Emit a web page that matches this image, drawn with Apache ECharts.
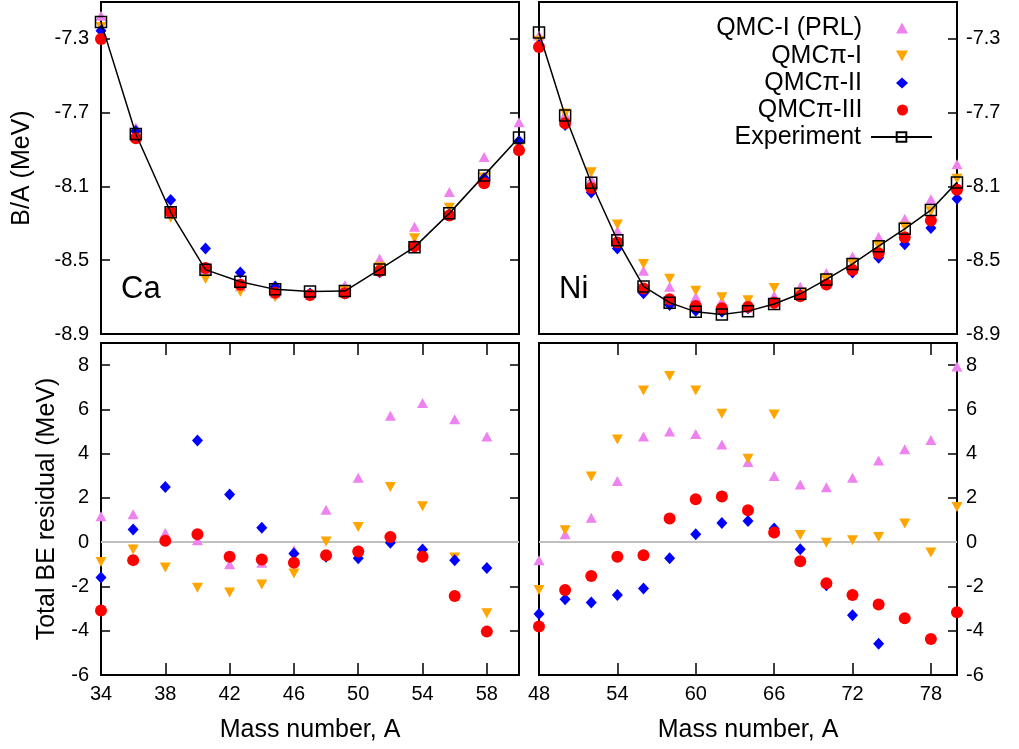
<!DOCTYPE html>
<html><head><meta charset="utf-8">
<script src="https://cdn.jsdelivr.net/npm/echarts@6/dist/echarts.min.js"></script>
<style>html,body{margin:0;padding:0;background:#fff}#c{width:1019px;height:749px}</style>
</head><body><div id="c"></div>
<script>
// ---------- data ----------
const seriesNames = ['QMC-I (PRL)', 'QMC\u03c0-I', 'QMC\u03c0-II', 'QMC\u03c0-III', 'Experiment'];

const caA = [34,36,38,40,42,44,46,48,50,52,54,56,58];
const caExpBA = [-7.209,-7.816,-8.240,-8.551,-8.617,-8.658,-8.669,-8.667,-8.550,-8.429,-8.246,-8.040,-7.834];
const caPrlBA = [-7.175,-7.781,-8.229,-8.549,-8.641,-8.679,-8.677,-8.636,-8.492,-8.319,-8.130,-7.941,-7.752];
const caPi1BA = [-7.235,-7.825,-8.270,-8.602,-8.671,-8.701,-8.700,-8.666,-8.536,-8.381,-8.216,-8.052,-7.889];
const caPi2BA = [-7.256,-7.800,-8.174,-8.436,-8.566,-8.643,-8.680,-8.681,-8.565,-8.429,-8.252,-8.055,-7.854];
const caPi3BA = [-7.300,-7.839,-8.238,-8.542,-8.633,-8.676,-8.689,-8.679,-8.558,-8.424,-8.258,-8.083,-7.904];

const caPrlRes = [1.17,1.26,0.42,0.09,-1.00,-0.93,-0.36,1.47,2.91,5.71,6.29,5.56,4.77];
const caPi1Res = [-0.89,-0.33,-1.14,-2.06,-2.27,-1.91,-1.41,0.03,0.69,2.49,1.62,-0.69,-3.21];
const caPi2Res = [-1.59,0.57,2.49,4.59,2.15,0.65,-0.51,-0.66,-0.73,-0.02,-0.33,-0.81,-1.17];
const caPi3Res = [-3.09,-0.81,0.06,0.36,-0.66,-0.78,-0.93,-0.59,-0.42,0.24,-0.66,-2.43,-4.04];

const niA = [48,50,52,54,56,58,60,62,64,66,68,70,72,74,76,78,80];
const niExpBA = [-7.265,-7.715,-8.080,-8.392,-8.642,-8.730,-8.780,-8.794,-8.776,-8.737,-8.682,-8.604,-8.520,-8.424,-8.330,-8.228,-8.078];
const niPrlBA = [-7.282,-7.708,-8.059,-8.341,-8.557,-8.644,-8.699,-8.723,-8.719,-8.692,-8.644,-8.569,-8.480,-8.374,-8.275,-8.169,-7.979];
const niPi1BA = [-7.310,-7.704,-8.023,-8.306,-8.520,-8.601,-8.666,-8.701,-8.717,-8.650,-8.677,-8.604,-8.519,-8.421,-8.319,-8.234,-8.058];
const niPi2BA = [-7.333,-7.767,-8.133,-8.436,-8.679,-8.743,-8.774,-8.780,-8.761,-8.728,-8.687,-8.632,-8.566,-8.486,-8.413,-8.325,-8.167];
const niPi3BA = [-7.344,-7.758,-8.109,-8.404,-8.653,-8.712,-8.748,-8.761,-8.754,-8.730,-8.695,-8.631,-8.553,-8.462,-8.375,-8.284,-8.118];

const niPrlRes = [-0.81,0.36,1.11,2.76,4.77,5.00,4.89,4.41,3.62,2.99,2.61,2.48,2.91,3.69,4.20,4.62,7.94];
const niPi1Res = [-2.16,0.54,2.97,4.64,6.85,7.51,6.85,5.80,3.77,5.77,0.32,-0.03,0.09,0.24,0.84,-0.46,1.59];
const niPi2Res = [-3.24,-2.58,-2.73,-2.39,-2.09,-0.73,0.36,0.87,0.96,0.62,-0.32,-1.94,-3.30,-4.59,-6.3,-7.6,-7.1];
const niPi3Res = [-3.81,-2.16,-1.53,-0.66,-0.59,1.07,1.94,2.07,1.44,0.44,-0.86,-1.86,-2.39,-2.81,-3.44,-4.37,-3.17];

const baTicks = [-8.9,-8.5,-8.1,-7.7,-7.3];
const resTicks = [-6,-4,-2,0,2,4,6,8];
const caXTicks = [34,38,42,46,50,54,58];
const niXTicks = [48,54,60,66,72,78];
const panelLabels = ['Ca', 'Ni'];
const zeroLevel = 0;

// ---------- styles ----------
const FONT = 'Liberation Sans, Arial, sans-serif';
const colors = ['#ee82ee', '#ffa500', '#0000ff', '#ff0000'];
const symbols = ['triangle', 'triangle', 'diamond', 'circle'];
const legendIcons = ['triangle', 'path://M0,0L10,0L5,9Z', 'diamond', 'circle'];
const rotations = [0, 180, 0, 0];
const sizes = [[11, 10], [11, 10], [11, 12], 12];

const pairs = (xs, ys) => xs.map((x, i) => [x, ys[i]]);

function scatter(k, xi, yi, xs, ys) {
  return {
    type: 'scatter', name: seriesNames[k], xAxisIndex: xi, yAxisIndex: yi,
    data: pairs(xs, ys), symbol: symbols[k], symbolRotate: rotations[k], symbolSize: sizes[k],
    itemStyle: { color: colors[k], opacity: 1 }, silent: true, z: 3 + k * 0.01, clip: true
  };
}
function expLine(xi, yi, xs, ys) {
  return {
    type: 'line', name: seriesNames[4], xAxisIndex: xi, yAxisIndex: yi,
    data: pairs(xs, ys), symbol: 'rect', symbolSize: 11, showSymbol: true,
    lineStyle: { color: '#000', width: 1.5 },
    itemStyle: { color: 'rgba(0,0,0,0)', borderColor: '#000', borderWidth: 1.5 },
    silent: true, z: 4, animation: false
  };
}
const zeroMark = {
  silent: true, symbol: 'none', label: { show: false }, z: 1,
  lineStyle: { color: '#c0c0c0', width: 2, type: 'solid' },
  data: [{ yAxis: zeroLevel }]
};

const tickStyle = { color: '#000', width: 1.5 };
const labelStyle = { fontSize: 20, color: '#000', fontFamily: FONT };

function xAx(grid, min, max, ticks, opts) {
  return Object.assign({
    type: 'value', gridIndex: grid, min: min, max: max, position: 'bottom',
    axisLine: { show: false, onZero: false }, splitLine: { show: false },
    axisTick: { show: true, inside: true, length: 12, lineStyle: tickStyle, customValues: ticks },
    axisLabel: { show: true, customValues: ticks, margin: 9, ...labelStyle }
  }, opts || {});
}
function yAx(grid, min, max, ticks, fmt, opts) {
  return Object.assign({
    type: 'value', gridIndex: grid, min: min, max: max, position: 'left',
    axisLine: { show: false, onZero: false }, splitLine: { show: false },
    axisTick: { show: true, inside: true, length: 9, lineStyle: tickStyle, customValues: ticks },
    axisLabel: { show: true, customValues: ticks, margin: 12, formatter: fmt, ...labelStyle }
  }, opts || {});
}
const f1 = v => Number(v).toFixed(1);
const f0 = v => String(Math.round(v));

const nameStyle = { fontSize: 25, color: '#000', fontFamily: FONT };

const grids = [
  { left: 101, top: 2, width: 418, height: 332 },
  { left: 539, top: 2, width: 418, height: 332 },
  { left: 101, top: 343, width: 418, height: 332 },
  { left: 539, top: 343, width: 418, height: 332 }
].map(g => Object.assign(g, { show: true, borderColor: '#000', borderWidth: 2, backgroundColor: 'transparent', containLabel: false }));

const xAxes = [
  xAx(0, 34, 58, caXTicks, { axisTick: { show: false }, axisLabel: { show: false } }),
  xAx(1, 48, 80, niXTicks, { axisTick: { show: false }, axisLabel: { show: false } }),
  xAx(2, 34, 60, caXTicks, { name: 'Mass number, A', nameLocation: 'middle', nameGap: 43, nameTextStyle: nameStyle }),
  xAx(2, 34, 60, caXTicks, { position: 'top', axisLabel: { show: false } }),
  xAx(3, 48, 80, niXTicks, { name: 'Mass number, A', nameLocation: 'middle', nameGap: 43, nameTextStyle: nameStyle }),
  xAx(3, 48, 80, niXTicks, { position: 'top', axisLabel: { show: false } })
];
const yAxes = [
  yAx(0, -8.9, -7.1, baTicks, f1, { name: 'B/A (MeV)', nameLocation: 'middle', nameGap: 66, nameTextStyle: nameStyle }),
  yAx(0, -8.9, -7.1, baTicks, f1, { position: 'right', axisLabel: { show: false } }),
  yAx(1, -8.9, -7.1, baTicks, f1, { position: 'right', axisLabel: { show: true, customValues: baTicks, margin: 9, formatter: f1, ...labelStyle } }),
  yAx(2, -6, 9, resTicks, f0, { name: 'Total BE residual (MeV)', nameLocation: 'middle', nameGap: 41, nameTextStyle: nameStyle }),
  yAx(2, -6, 9, resTicks, f0, { position: 'right', axisLabel: { show: false } }),
  yAx(3, -6, 9, resTicks, f0, { position: 'right', axisLabel: { show: true, customValues: resTicks, margin: 9, formatter: f0, ...labelStyle } })
];

const series = [];
[caPrlBA, caPi1BA, caPi2BA, caPi3BA].forEach((d, k) => series.push(scatter(k, 0, 0, caA, d)));
series.push(expLine(0, 0, caA, caExpBA));
[niPrlBA, niPi1BA, niPi2BA, niPi3BA].forEach((d, k) => series.push(scatter(k, 1, 2, niA, d)));
series.push(expLine(1, 2, niA, niExpBA));
[caPrlRes, caPi1Res, caPi2Res, caPi3Res].forEach((d, k) => {
  const s = scatter(k, 2, 3, caA, d);
  if (k === 0) s.markLine = zeroMark;
  series.push(s);
});
[niPrlRes, niPi1Res, niPi2Res, niPi3Res].forEach((d, k) => {
  const s = scatter(k, 4, 5, niA, d);
  if (k === 0) s.markLine = zeroMark;
  series.push(s);
});

const legendCenters = [28, 56, 83, 110, 137];
const legends = seriesNames.map((n, i) => {
  const isLine = i === 4;
  return {
    data: [isLine ? { name: n } : { name: n, icon: legendIcons[i] }],
    orient: 'vertical', align: 'right',
    right: isLine ? 86 : 111, top: legendCenters[i] - 13,
    itemWidth: isLine ? 61 : 12, itemHeight: isLine ? 12 : 11, padding: 0, itemGap: 0, selectedMode: false,
    textStyle: { fontSize: 25, color: '#000', fontFamily: FONT, lineHeight: 26, padding: [0, isLine ? 5 : 29, 0, 0] }
  };
});

const chart = echarts.init(document.getElementById('c'), null, { renderer: 'canvas' });
chart.setOption({
  animation: false,
  backgroundColor: '#fff',
  grid: grids,
  xAxis: xAxes,
  yAxis: yAxes,
  legend: legends,
  series: series,
  graphic: [
    { type: 'text', left: 121, top: 274, style: { text: panelLabels[0], font: '31px ' + FONT, fill: '#000' } },
    { type: 'text', left: 559, top: 274, style: { text: panelLabels[1], font: '31px ' + FONT, fill: '#000' } }
  ]
});
</script></body></html>
